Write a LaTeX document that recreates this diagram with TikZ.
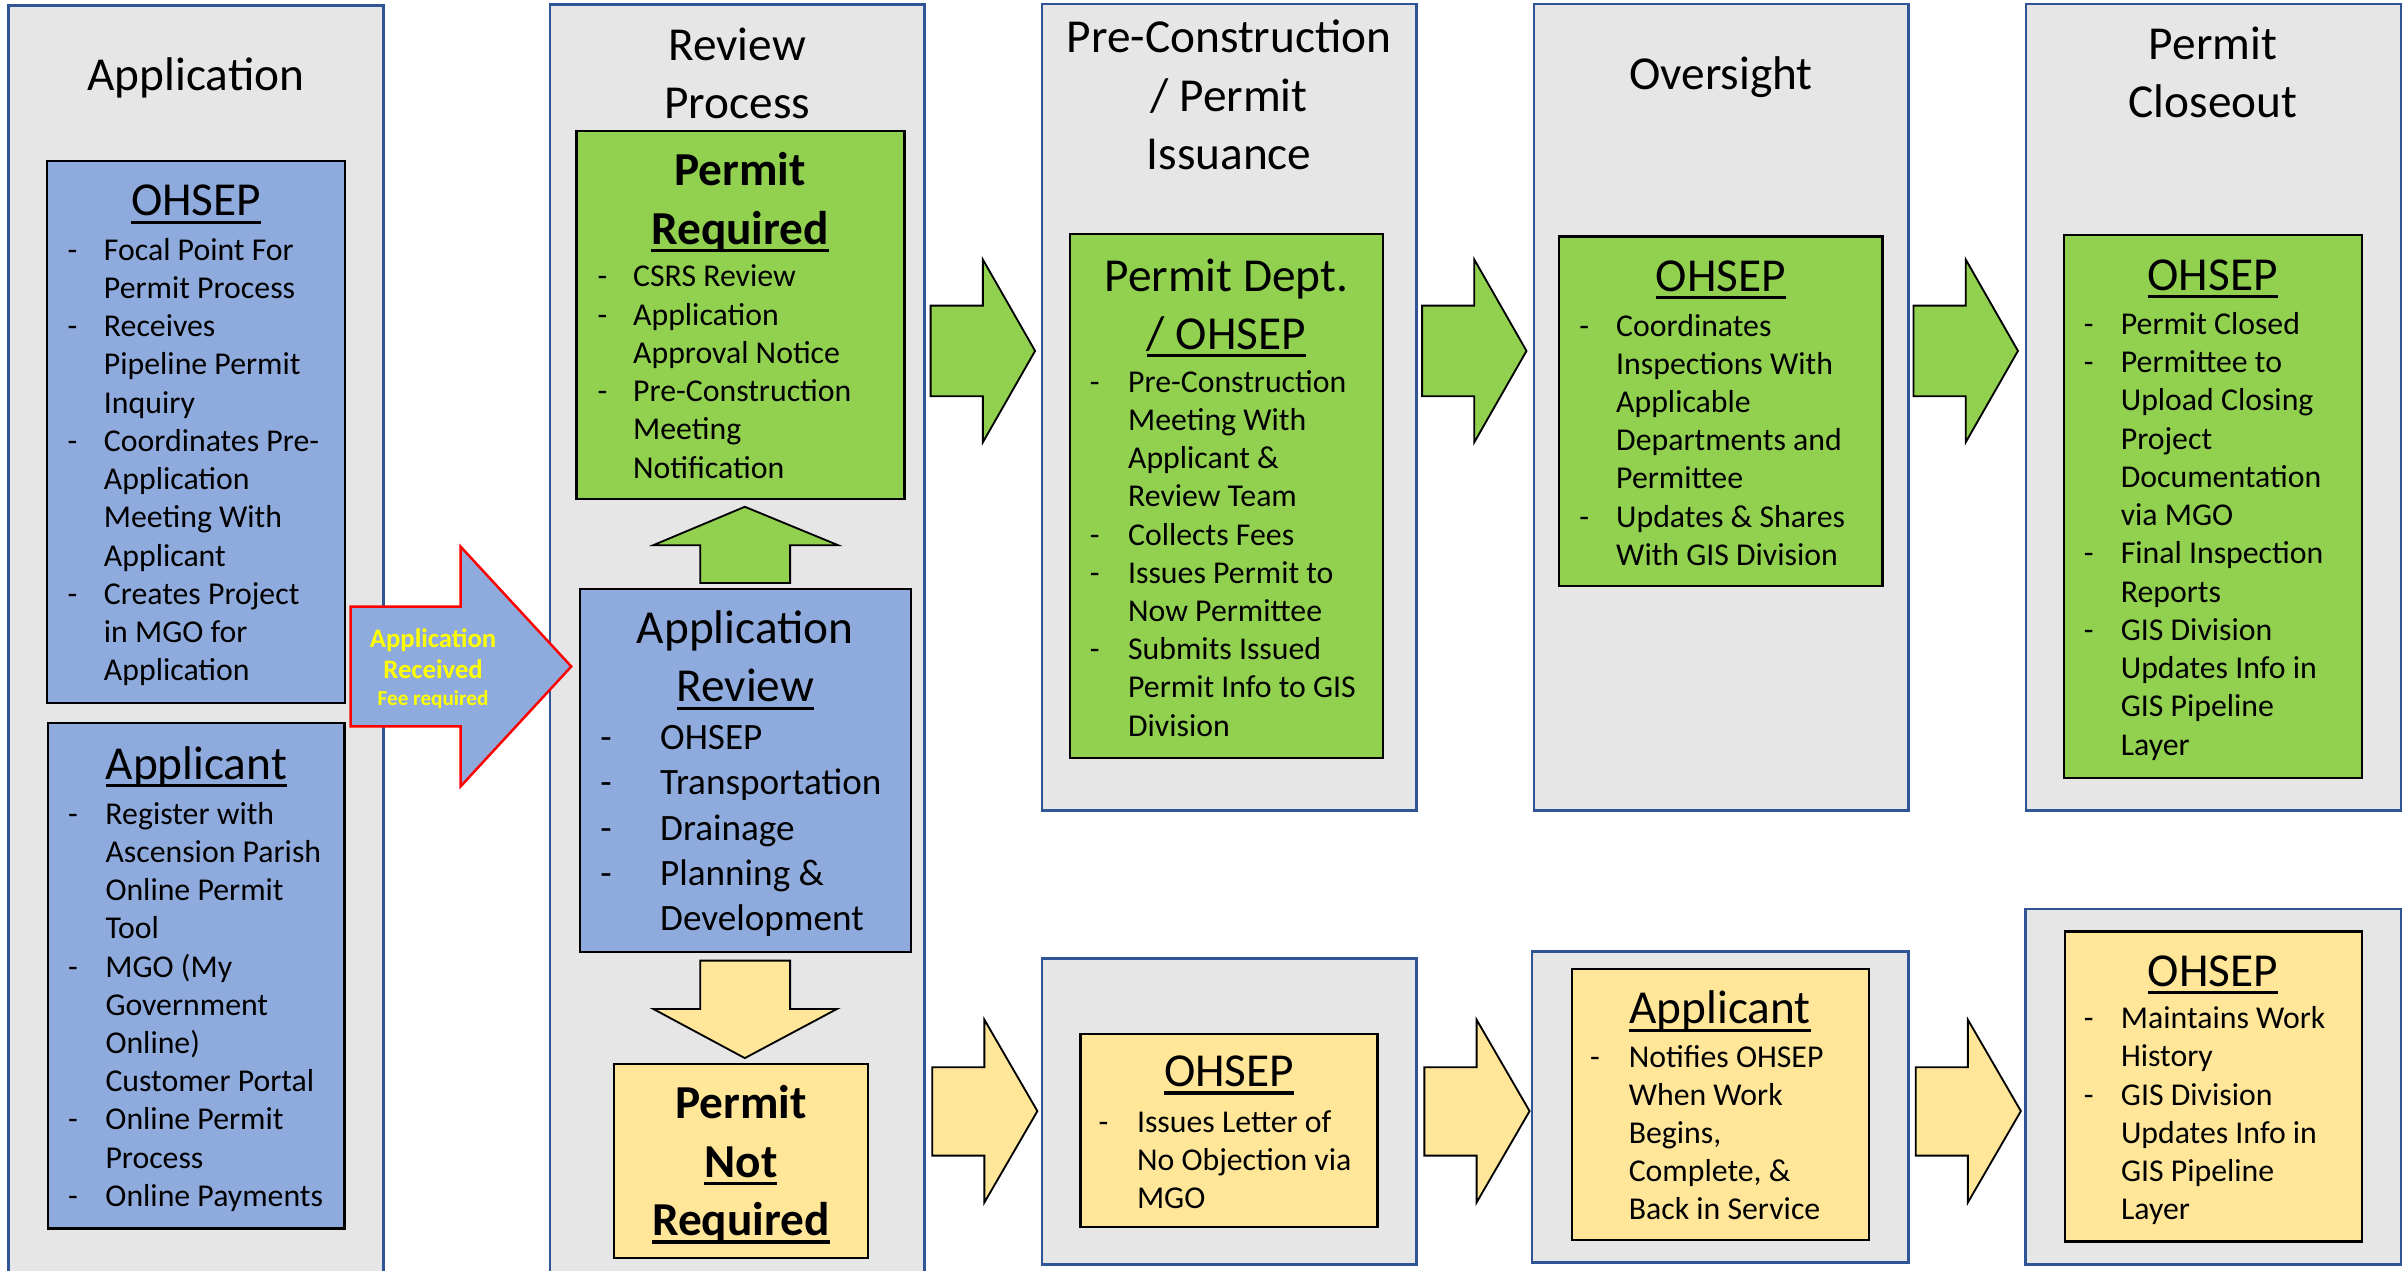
\documentclass[tikz,border=0pt]{standalone}
\usepackage{fontspec}
\setmainfont{Carlito}
\definecolor{colgray}{HTML}{E7E6E6}
\definecolor{colblue}{HTML}{2F5597}
\definecolor{boxblue}{HTML}{8FAADC}
\definecolor{boxgreen}{HTML}{92D050}
\definecolor{boxyellow}{HTML}{FFE699}
\definecolor{arrred}{HTML}{FF0000}
\definecolor{txtyellow}{HTML}{FFFF00}
\newlength\bind
\newcommand\bitm[1]{\leavevmode\makebox[\bind][l]{-}#1}
\newcommand\citm[1]{\leavevmode\hspace*{\bind}#1}
\newcommand\ulx[1]{\leavevmode\setbox0\hbox{#1}\rlap{\rule[-0.17em]{\wd0}{0.065em}}\box0}
\tikzset{
  colbox/.style={draw=colblue, fill=colgray, line width=0.8pt},
  bluebox/.style={draw=black, fill=boxblue, line width=0.75pt},
  greenbox/.style={draw=black, fill=boxgreen, line width=0.75pt},
  yellowbox/.style={draw=black, fill=boxyellow, line width=0.75pt},
  blockarrow/.style={draw=black, line width=0.6pt, line join=miter},
  ttl/.style={anchor=base, inner sep=0pt, font=\fontsize{15.4}{19}\selectfont},
  body/.style={anchor=base west, inner sep=0pt, font=\fontsize{10.35}{12.45}\selectfont},
  bigbody/.style={anchor=base west, inner sep=0pt, font=\fontsize{12.1}{14.7}\selectfont},
  recv/.style={anchor=base, inner sep=0pt, text=txtyellow},
}
\begin{document}
\begin{tikzpicture}[x=0.5pt,y=-0.5pt]
\useasboundingbox (0,0) rectangle (1568,827.6);
\begin{scope}
\clip (0,0) rectangle (1568,827.6);
% columns
\draw[colbox] (5.5,3.6) rectangle (249.8,835);
\draw[colbox] (358.3,3) rectangle (602,835);
\draw[colbox] (678.4,2.7) rectangle (922.3,527.8);
\draw[colbox] (998.7,2.7) rectangle (1242.7,527.8);
\draw[colbox] (1319.3,2.7) rectangle (1563.5,527.8);
\draw[colbox] (678.4,624.2) rectangle (922.3,823.3);
\draw[colbox] (997.7,619.5) rectangle (1242.7,822);
\draw[colbox] (1319,592) rectangle (1563.5,823.3);
\end{scope}

% column titles
\node[ttl] (t1) at (127.6,58.8) {\parbox[t]{200pt}{\centering Application}};
\node[ttl] (t2) at (480,39.3) {\parbox[t]{200pt}{\centering Review\\Process}};
\node[ttl] (t3) at (800.3,34.5) {\parbox[t]{200pt}{\centering Pre-Construction\\/ Permit\\Issuance}};
\node[ttl] (t4) at (1120.7,58.5) {\parbox[t]{200pt}{\centering Oversight}};
\node[ttl] (t5) at (1441,38.5) {\parbox[t]{200pt}{\centering Permit\\Closeout}};

% inner boxes
\draw[bluebox] (30.8,104.8) rectangle (224.6,457.8);
\draw[bluebox] (31.2,471) rectangle (224.4,800);
\draw[greenbox] (375.4,85.3) rectangle (589,325);
\draw[bluebox] (377.6,383.6) rectangle (593,620);
\draw[yellowbox] (400,693) rectangle (565,819);
\draw[greenbox] (696.6,152.5) rectangle (900.7,493.7);
\draw[greenbox] (1015.3,154) rectangle (1225.7,381.4);
\draw[greenbox] (1343.8,153) rectangle (1537.8,506.7);
\draw[yellowbox] (703.6,673.2) rectangle (897,799.1);
\draw[yellowbox] (1023.5,630.8) rectangle (1216.8,807.3);
\draw[yellowbox] (1344.5,606.5) rectangle (1537.8,808.4);

% block arrows
\draw[blockarrow, fill=boxblue, draw=arrred, line width=0.8pt] (228.3,395) -- (300,395) -- (300,356) -- (372,434) -- (300,512) -- (300,473) -- (228.3,473) -- cycle;
\draw[blockarrow, fill=boxgreen] (456,379.6) -- (456,355) -- (425.4,355) -- (485,330) -- (545.7,355) -- (514.5,355) -- (514.5,379.6) -- cycle;
\draw[blockarrow, fill=boxyellow] (456,625.5) -- (514.5,625.5) -- (514.5,657) -- (545,657) -- (485,689) -- (425.4,657) -- (456,657) -- cycle;
\foreach \x in {606,926,1246}{
  \draw[blockarrow, fill=boxgreen] (\x,199) -- (\x+34,199) -- (\x+34,169) -- (\x+68,228.5) -- (\x+34,288) -- (\x+34,258) -- (\x,258) -- cycle;
}
\foreach \x in {607,927.5,1247.4}{
  \draw[blockarrow, fill=boxyellow] (\x,695) -- (\x+34,695) -- (\x+34,664) -- (\x+68.5,723.5) -- (\x+34,783) -- (\x+34,752.5) -- (\x,752.5) -- cycle;
}

% arrow label
\node[recv, font=\fontsize{8.7}{10}\bfseries] (rcv1) at (282,421.5) {Application};
\node[recv, font=\fontsize{8.7}{10}\bfseries] (rcv2) at (282,442) {Received};
\node[recv, font=\fontsize{6.9}{8}\bfseries] (rcv3) at (282,459.5) {Fee required};

% ---- Application column
\node[ttl] (ohA) at (127.7,140.5) {\ulx{OHSEP}};
\node[body] (ohAb) at (43.7,169.4) {\setlength\bind{11.8pt}\parbox[t]{200pt}{%
\bitm{Focal Point For}\\
\citm{Permit Process}\\
\bitm{Receives}\\
\citm{Pipeline Permit}\\
\citm{Inquiry}\\
\bitm{Coordinates Pre-}\\
\citm{Application}\\
\citm{Meeting With}\\
\citm{Applicant}\\
\bitm{Creates Project}\\
\citm{in MGO for}\\
\citm{Application}}};

\node[ttl] (apA) at (127.8,507.5) {\ulx{Applicant}};
\node[body] (apAb) at (43.9,536.6) {\setlength\bind{12.2pt}\parbox[t]{200pt}{%
\bitm{Register with}\\
\citm{Ascension Parish}\\
\citm{Online Permit}\\
\citm{Tool}\\
\bitm{MGO (My}\\
\citm{Government}\\
\citm{Online)}\\
\citm{Customer Portal}\\
\bitm{Online Permit}\\
\citm{Process}\\
\bitm{Online Payments}}};

% ---- Review column
\node[ttl, font=\fontsize{15.4}{19}\bfseries] (prq) at (482,120.9) {\parbox[t]{200pt}{\centering Permit\\\ulx{Required}}};
\node[body] (prqb) at (388.7,186.8) {\setlength\bind{11.6pt}\parbox[t]{200pt}{%
\bitm{CSRS Review}\\
\bitm{Application}\\
\citm{Approval Notice}\\
\bitm{Pre-Construction}\\
\citm{Meeting}\\
\citm{Notification}}};

\node[ttl] (arv) at (485.3,419) {\parbox[t]{200pt}{\centering Application\\\ulx{Review}}};
\node[bigbody] (arvb) at (390.5,488.2) {\setlength\bind{19.5pt}\parbox[t]{200pt}{%
\bitm{OHSEP}\\
\bitm{Transportation}\\
\bitm{Drainage}\\
\bitm{Planning \&}\\
\citm{Development}}};

\node[ttl, font=\fontsize{15.4}{19}\bfseries] (pnr) at (482.5,728.5) {\parbox[t]{200pt}{\centering Permit\\\ulx{Not}\\\ulx{Required}}};

% ---- Pre-Construction column
\node[ttl] (pdt) at (798.6,189.5) {\parbox[t]{200pt}{\centering Permit Dept.\\\ulx{/ OHSEP}}};
\node[body] (pdtb) at (709.2,255.3) {\setlength\bind{12.5pt}\parbox[t]{200pt}{%
\bitm{Pre-Construction}\\
\citm{Meeting With}\\
\citm{Applicant \&}\\
\citm{Review Team}\\
\bitm{Collects Fees}\\
\bitm{Issues Permit to}\\
\citm{Now Permittee}\\
\bitm{Submits Issued}\\
\citm{Permit Info to GIS}\\
\citm{Division}}};

\node[ttl] (lno) at (800.3,707.5) {\ulx{OHSEP}};
\node[body] (lnob) at (715,737.2) {\setlength\bind{12.5pt}\parbox[t]{200pt}{%
\bitm{Issues Letter of}\\
\citm{No Objection via}\\
\citm{MGO}}};

% ---- Oversight column
\node[ttl] (ovs) at (1120.5,189.5) {\ulx{OHSEP}};
\node[body] (ovsb) at (1028,218.8) {\setlength\bind{12pt}\parbox[t]{200pt}{%
\bitm{Coordinates}\\
\citm{Inspections With}\\
\citm{Applicable}\\
\citm{Departments and}\\
\citm{Permittee}\\
\bitm{Updates \& Shares}\\
\citm{With GIS Division}}};

\node[ttl] (ntf) at (1120,666.5) {\ulx{Applicant}};
\node[body] (ntfb) at (1035,694.8) {\setlength\bind{12.6pt}\parbox[t]{200pt}{%
\bitm{Notifies OHSEP}\\
\citm{When Work}\\
\citm{Begins,}\\
\citm{Complete, \&}\\
\citm{Back in Service}}};

% ---- Closeout column
\node[ttl] (clo) at (1440.8,189.1) {\ulx{OHSEP}};
\node[body] (clob) at (1356.6,217.8) {\setlength\bind{12pt}\parbox[t]{200pt}{%
\bitm{Permit Closed}\\
\bitm{Permittee to}\\
\citm{Upload Closing}\\
\citm{Project}\\
\citm{Documentation}\\
\citm{via MGO}\\
\bitm{Final Inspection}\\
\citm{Reports}\\
\bitm{GIS Division}\\
\citm{Updates Info in}\\
\citm{GIS Pipeline}\\
\citm{Layer}}};

\node[ttl] (mwh) at (1441,642.2) {\ulx{OHSEP}};
\node[body] (mwhb) at (1356.5,669.8) {\setlength\bind{12.1pt}\parbox[t]{200pt}{%
\bitm{Maintains Work}\\
\citm{History}\\
\bitm{GIS Division}\\
\citm{Updates Info in}\\
\citm{GIS Pipeline}\\
\citm{Layer}}};
\end{tikzpicture}
\end{document}
